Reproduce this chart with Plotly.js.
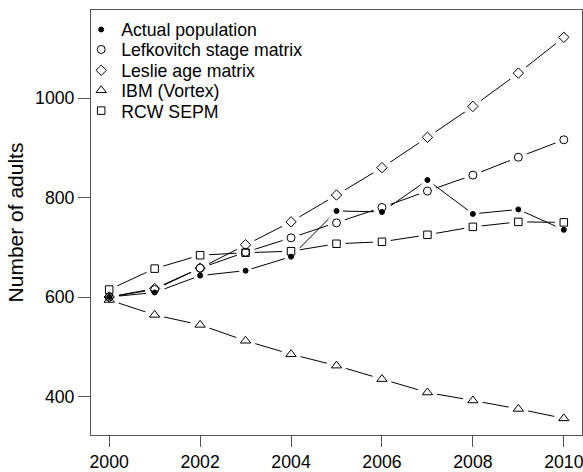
<!DOCTYPE html>
<html>
<head>
<meta charset="utf-8">
<script src="https://cdn.plot.ly/plotly-3.0.1.min.js"></script>
<style>html,body{margin:0;padding:0;background:#fff;}#chart{width:583px;height:472px;}</style>
</head>
<body>
<div id="chart"></div>
<script>
var years = [2000, 2001, 2002, 2003, 2004, 2005, 2006, 2007, 2008, 2009, 2010];
var actualPopulation = [600, 609, 643, 653, 681, 773, 771, 835, 767, 776, 735];
var lefkovitchStage = [600, 615, 658, 690, 719, 749, 780, 813, 845, 881, 916];
var leslieAge = [600, 617, 658, 705, 751, 805, 860, 921, 983, 1050, 1122];
var ibmVortex = [594, 564, 544, 512, 485, 462, 435, 408, 392, 375, 356];
var rcwSepm = [615, 657, 684, 689, 692, 707, 711, 725, 741, 751, 750];
var seriesNames = ["Actual population", "Lefkovitch stage matrix", "Leslie age matrix", "IBM (Vortex)", "RCW SEPM"];
var xTicks = [2000, 2002, 2004, 2006, 2008, 2010];
var yTicks = [400, 600, 800, 1000];

var seriesValues = [actualPopulation, lefkovitchStage, leslieAge, ibmVortex, rcwSepm];
var symbols = ["circle", "circle-open", "diamond-open", "triangle-up-open", "square-open"];
var sizes = [5, 8, 8, 9, 7.5];
var haloSizes = [13, 18, 20, 20, 18];
var legendRowsY = [0.953, 0.906, 0.857, 0.810, 0.762];

var traces = [];
seriesValues.forEach(function (vals, i) {
  traces.push({x: years, y: vals, type: "scatter", mode: "lines", showlegend: false,
    hoverinfo: "skip", line: {color: "#000", width: 1}});
});
seriesValues.forEach(function (vals, i) {
  traces.push({x: years, y: vals, type: "scatter", mode: "markers", showlegend: false,
    hoverinfo: "skip", marker: {symbol: "circle", size: haloSizes[i], color: "#fff", opacity: 1, line: {width: 0}}});
});
seriesValues.forEach(function (vals, i) {
  traces.push({x: years, y: vals, type: "scatter", mode: "markers", name: seriesNames[i],
    legend: i === 0 ? "legend" : "legend" + (i + 1),
    marker: {symbol: symbols[i], size: sizes[i], color: "#000", line: {color: "#000", width: 1}}});
});

var fontFam = "Liberation Sans, Arial, Helvetica, sans-serif";
var layout = {
  width: 583, height: 472,
  margin: {l: 91, r: 1, t: 10, b: 37},
  paper_bgcolor: "#fff", plot_bgcolor: "#fff",
  font: {family: fontFam, size: 17.7, color: "#000"},
  xaxis: {range: [1999.6, 2010.4], tickvals: xTicks, ticktext: xTicks.map(String),
    showgrid: false, zeroline: false, showline: true, mirror: true, linecolor: "#555", linewidth: 1,
    ticks: "outside", ticklen: 11, tickcolor: "#555", tickwidth: 1, ticklabeloverflow: "allow",
    tickfont: {family: fontFam, size: 17.7, color: "#000"}},
  yaxis: {range: [322.6, 1176.9], tickvals: yTicks, ticktext: yTicks.map(String),
    showgrid: false, zeroline: false, showline: true, mirror: true, linecolor: "#555", linewidth: 1,
    ticks: "outside", ticklen: 12, tickcolor: "#555", tickwidth: 1,
    tickfont: {family: fontFam, size: 17.7, color: "#000"},
    title: {text: "Number of adults", font: {family: fontFam, size: 21, color: "#000"}, standoff: 5}},
  showlegend: true
};
var legendBase = {x: -0.02, xanchor: "left", yanchor: "middle", bgcolor: "rgba(0,0,0,0)",
  borderwidth: 0, font: {family: fontFam, size: 17.7, color: "#000"}};
legendRowsY.forEach(function (yy, i) {
  var key = i === 0 ? "legend" : "legend" + (i + 1);
  layout[key] = Object.assign({}, legendBase, {y: yy});
});

Plotly.newPlot("chart", traces, layout, {displayModeBar: false, staticPlot: true});
</script>
</body>
</html>
